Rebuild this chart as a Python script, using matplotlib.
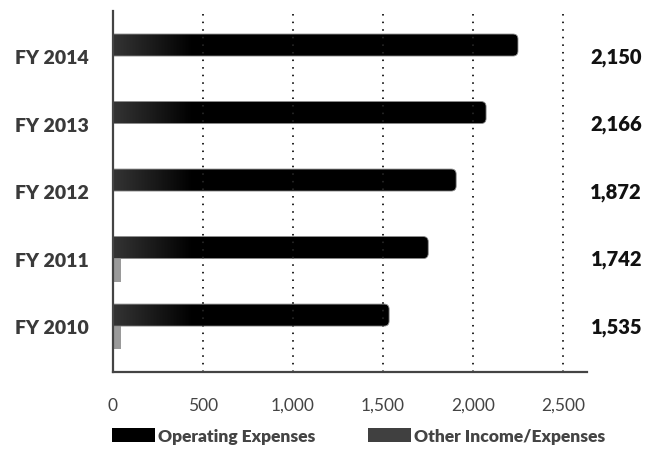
import numpy as np
import matplotlib
matplotlib.use("Agg")
import matplotlib.pyplot as plt
import matplotlib.transforms as mtransforms
from matplotlib.patches import FancyBboxPatch, Patch
from matplotlib.colors import LinearSegmentedColormap

# Fiscal years, bottom to top
years = ["FY 2010", "FY 2011", "FY 2012", "FY 2013", "FY 2014"]
operating_expenses = [1535, 1752, 1907, 2073, 2250]
other_income_expenses = [45, 45, 10, 10, 10]
total_labels = ["1,535", "1,742", "1,872", "2,166", "2,150"]
x_ticks = [0, 500, 1000, 1500, 2000, 2500]
x_tick_labels = ["0", "500", "1,000", "1,500", "2,000", "2,500"]

FONT = ["Lato", "DejaVu Sans"]
plt.rcParams["font.family"] = FONT

W, H = 655, 452
fig = plt.figure(figsize=(W / 100, H / 100), dpi=100)
ax = fig.add_axes([112.5 / W, (H - 373) / H, (587 - 112.5) / W, (373 - 12) / H])

xmax = 2633
ymin, ymax = -0.68, 4.667
bar_h = 0.326
other_h = 0.34

y = np.arange(len(years))

# Other income / expenses: light bars hanging under each category line
ax.barh(y - other_h / 2, other_income_expenses, height=other_h,
        color="#9a9a9a", zorder=2)

# Operating expenses: dark bars with a soft gradient at the base and a rounded end
grad_cmap = LinearSegmentedColormap.from_list("bar_grad", ["#343434", "#000000"])
x_units_per_px = xmax / (587 - 112.5)
y_units_per_px = (ymax - ymin) / (373 - 12)
aspect = y_units_per_px / x_units_per_px
radius = 5 * x_units_per_px

for yi, val in zip(y, operating_expenses):
    y0, y1 = yi, yi + bar_h
    patch = FancyBboxPatch((-60, y0), val + 60, bar_h,
                           boxstyle=f"round,pad=0,rounding_size={radius}",
                           mutation_aspect=aspect,
                           facecolor="none", edgecolor="#8c8c8c",
                           linewidth=0.6, zorder=4)
    ax.add_patch(patch)
    xs = np.linspace(0, val, 400)
    grad = np.clip(xs / 440.0, 0, 1)[None, :]
    im = ax.imshow(grad, cmap=grad_cmap, vmin=0, vmax=1, aspect="auto",
                   extent=(0, val, y0, y1), origin="lower",
                   interpolation="bilinear", zorder=3)
    im.set_clip_path(patch)

# Dotted vertical guides
for xv in x_ticks[1:]:
    ax.axvline(xv, color="#222222", linewidth=1.4, linestyle=(0, (0.8, 3.1)),
               zorder=5)

ax.set_xlim(0, xmax)
ax.set_ylim(ymin, ymax)

ax.set_xticks(x_ticks)
ax.set_xticklabels(x_tick_labels, fontsize=12.5, color="#444444")
ax.set_yticks(y)
ax.set_yticklabels(years, fontsize=14, fontweight="heavy", color="#3a3a3a")
ax.tick_params(axis="x", length=0, pad=18)
ax.tick_params(axis="y", length=0, pad=17)

for side in ("top", "right"):
    ax.spines[side].set_visible(False)
for side in ("left", "bottom"):
    ax.spines[side].set_color("#444444")
    ax.spines[side].set_linewidth(1.6)
    ax.spines[side].set_zorder(6)

# Totals shown to the right of the plot
label_tf = mtransforms.blended_transform_factory(fig.transFigure, ax.transData)
for yi, lab in zip(y, total_labels):
    ax.text(642 / W, yi, lab, transform=label_tf,
            ha="right", va="center", fontsize=14.5, fontweight="heavy",
            color="#111111")

handles = [Patch(facecolor="#000000", edgecolor="none"),
           Patch(facecolor="#404040", edgecolor="none")]
fig.legend(handles, ["Operating Expenses", "Other Income/Expenses"],
           loc="center left", bbox_to_anchor=(112 / W, 1 - 437 / H),
           ncol=2, frameon=False, handlelength=2.47, handleheight=0.92,
           handletextpad=0.2, columnspacing=3.0, borderpad=0,
           borderaxespad=0,
           prop={"family": FONT, "weight": "heavy", "size": 12.5},
           labelcolor="#444444")

fig.savefig("out.png", dpi=100)
